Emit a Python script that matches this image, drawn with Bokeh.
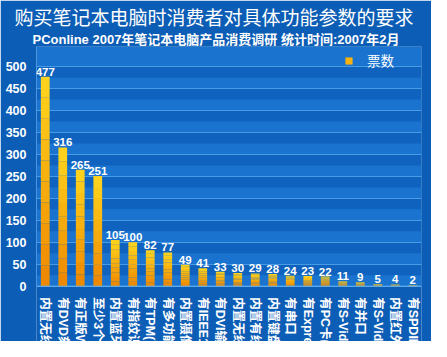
import math
from bokeh.plotting import figure
from bokeh.models import (ColumnDataSource, FactorRange, Range1d, LabelSet, Title,
                          FixedTicker, Grid, Legend, LegendItem, Span, BoxAnnotation)
from bokeh.core.properties import value
from bokeh.embed import file_html
from bokeh.resources import INLINE

# ---- data ----
categories = ["内置无线网卡", "有DVD刻录机", "有正版Windows", "至少3个USB接口", "内置蓝牙",
              "有指纹识别", "有TPM(可信平台模块)", "有多功能读卡器", "内置摄像头",
              "有IEEE1394接口", "有DVI输出", "内置无线猫", "内置有线猫", "内置键盘防水",
              "有串口", "有ExpressCard插槽", "有PC卡(PCMCIA)插槽", "有S-Video输入",
              "有并口", "有S-Video输出", "内置红外", "有SPDIF"]
votes = [477, 316, 265, 251, 105, 100, 82, 77, 49, 41, 33, 30, 29, 28,
         24, 23, 22, 11, 9, 5, 4, 2]
series_name = "票数"
y_ticks = list(range(0, 501, 50))
band_ticks = list(range(0, 501, 25))

title_text = "购买笔记本电脑时消费者对具体功能参数的要求"
subtitle_text = "PConline 2007年笔记本电脑产品消费调研  统计时间:2007年2月"

BG = "#0c5db5"
DARK_BAND = "#0f63be"
BAND = "#1a74cf"
GRID = "#4a9be6"
AXIS = "#63b2f2"

p = figure(width=431, height=341, output_backend="svg", toolbar_location=None,
           x_range=FactorRange(factors=categories, range_padding=0),
           y_range=Range1d(-126, 546), title=None,
           min_border_left=36, min_border_right=10, min_border_top=46, min_border_bottom=0)
p.background_fill_color = BG
p.border_fill_color = BG
p.outline_line_color = None

sub = Title(text=subtitle_text, align="left", text_color="white", text_font_size="13px",
            text_font="Liberation Sans, Noto Sans CJK SC", text_font_style="bold",
            standoff=0, offset=-4)
main = Title(text=title_text, align="left", text_color="white", text_font_size="19px",
             text_font="Noto Sans CJK SC", text_font_style="normal", standoff=0, offset=-22)
p.add_layout(sub, "above")
p.add_layout(main, "above")

# plot area background (0 .. top tick)
p.add_layout(BoxAnnotation(bottom=0, top=y_ticks[-1], fill_color=DARK_BAND, fill_alpha=1,
                           line_color=None, level="image"))

# gradient bars built from stacked fractions of each value
bot_c = (238, 134, 0)
top_c = (255, 214, 30)
K = 10
seg_renderers = []
for k in range(K):
    t = (k + 0.5) / K
    col = "#%02x%02x%02x" % tuple(int(bot_c[i] + (top_c[i] - bot_c[i]) * t) for i in range(3))
    src = ColumnDataSource(dict(x=categories,
                                b=[v * k / K for v in votes],
                                t=[v * (k + 1) / K for v in votes]))
    r = p.vbar(x="x", bottom="b", top="t", width=0.5, source=src,
               fill_color=col, line_color=None)
    seg_renderers.append(r)

# value labels
lsrc = ColumnDataSource(dict(x=categories, y=votes, txt=[str(v) for v in votes]))
p.add_layout(LabelSet(x="x", y="y", text="txt", source=lsrc, y_offset=1,
                      text_align="center", text_baseline="bottom", text_color="white",
                      text_font=value("Liberation Sans"), text_font_style="bold",
                      text_font_size="11.5px"))

# category labels, rotated, reading top to bottom
csrc = ColumnDataSource(dict(x=categories, y=[0] * len(categories), txt=categories))
p.add_layout(LabelSet(x="x", y="y", text="txt", source=csrc, y_offset=-11, angle=-math.pi / 2,
                      text_align="left", text_baseline="middle", text_color="white",
                      text_font=value("Liberation Sans, Noto Sans CJK SC"), text_font_style="bold",
                      text_font_size="12.5px"))

# axes
p.yaxis.ticker = FixedTicker(ticks=y_ticks)
p.yaxis.major_label_text_color = "white"
p.yaxis.major_label_text_font = "Liberation Sans"
p.yaxis.major_label_text_font_style = "bold"
p.yaxis.major_label_text_font_size = "12.5px"
p.yaxis.major_label_standoff = 4
p.yaxis.axis_line_color = None
p.yaxis.major_tick_line_color = None
p.yaxis.minor_tick_line_color = None
# y axis line from 0 to the top of the frame
p.segment(x0=[0], x1=[0], y0=[0], y1=[p.y_range.end], line_color=AXIS, line_width=1)

p.xaxis.visible = False
p.add_layout(Span(location=0, dimension="width", line_color=AXIS, line_width=1))

# grid bands and lines
p.xgrid.grid_line_color = None
p.ygrid.ticker = FixedTicker(ticks=band_ticks)
p.ygrid.grid_line_color = None
p.ygrid.band_fill_color = BAND
p.ygrid.band_fill_alpha = 1
p.add_layout(Grid(dimension=1, ticker=FixedTicker(ticks=y_ticks), grid_line_color=GRID,
                  grid_line_width=1))

legend = Legend(items=[LegendItem(label=series_name, renderers=[seg_renderers[K // 2]])],
                location=(308, 271), background_fill_alpha=0, border_line_color=None,
                label_text_color="white", label_text_font="Noto Sans CJK SC",
                label_text_font_size="13.5px", glyph_width=9, glyph_height=9,
                margin=0, padding=4, label_standoff=14)
p.add_layout(legend)

open("out.html", "w").write(file_html(p, INLINE))
